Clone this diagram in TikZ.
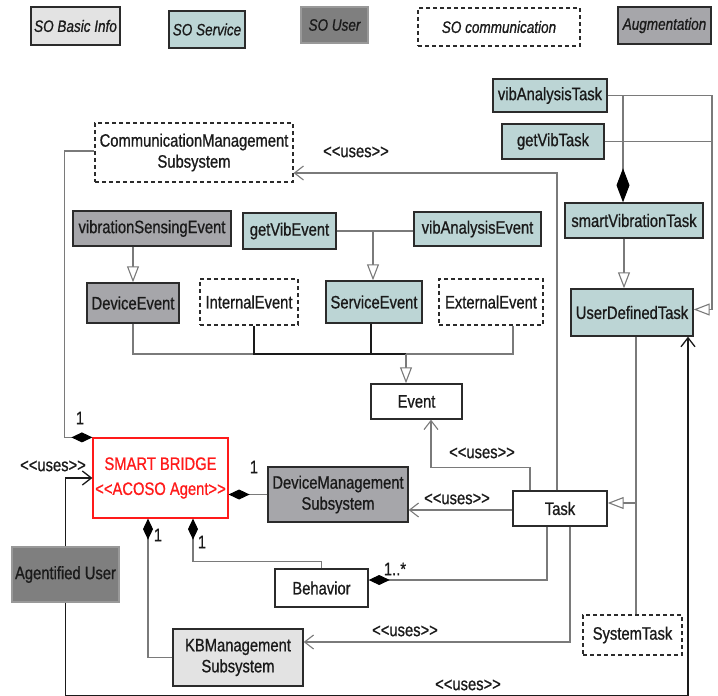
\documentclass[tikz,border=0pt]{standalone}
\usepackage{fontspec}
\setmainfont{Liberation Sans}[FakeStretch=0.82, FakeBold=0.8]
\usetikzlibrary{arrows.meta}

\definecolor{basicfill}{HTML}{E3E3E3}
\definecolor{servicefill}{HTML}{BCD5D5}
\definecolor{userfill}{HTML}{7F7F7F}
\definecolor{augfill}{HTML}{A6A6AA}
\definecolor{edgecol}{HTML}{2B2B2B}
\definecolor{wirecol}{HTML}{7A7A7A}
\definecolor{txtcol}{HTML}{1A1A1A}
\definecolor{sbred}{HTML}{FF1A1A}

% angle brackets kept apart so that no guillemet ligature forms
\newcommand{\lt}{\textless\kern0pt}
\newcommand{\gt}{\textgreater\kern0pt}
\newcommand{\uses}{\lt\lt uses\gt\gt}

\tikzset{
  box/.style={draw=edgecol, line width=1.4pt, inner sep=0pt, align=center,
    text=txtcol, font=\fontsize{18}{21}\selectfont},
  basicbox/.style={box, fill=basicfill},
  plainbox/.style={box, fill=white},
  servicebox/.style={box, fill=servicefill},
  augbox/.style={box, fill=augfill},
  userbox/.style={box, fill=userfill, draw=userfill!80!white},
  commbox/.style={box, fill=white, dash pattern=on 4pt off 3pt, line width=1.2pt},
  legendtext/.style={font=\fontsize{16.5}{19}\selectfont\itshape},
  wire/.style={draw=wirecol, line width=1.1pt},
  darkwire/.style={draw=txtcol, line width=1.3pt},
  gen/.style={-{Triangle[open, length=16pt, width=12pt, fill=white]}},
  use/.style={-{Straight Barb[length=9pt, width=14pt]}},
  comp/.style={-{Diamond[length=21pt, width=10pt, fill=black, color=black]}},
  bigcomp/.style={-{Diamond[length=34pt, width=13pt, fill=black, color=black]}},
  lbl/.style={text=txtcol, font=\fontsize{18}{19}\selectfont, inner sep=0pt},
}

\begin{document}
\begin{tikzpicture}[x=1pt,y=-1pt]
\useasboundingbox (0,0) rectangle (718,696);

% ---------- legend ----------
\node[basicbox, legendtext, minimum width=89pt, minimum height=38pt] (lgBasic) at (75.5,26) {SO Basic Info};
\node[servicebox, legendtext, minimum width=76pt, minimum height=37pt] (lgService) at (207,29.5) {SO Service};
\node[userbox, legendtext, minimum width=67pt, minimum height=36pt] (lgUser) at (334.5,25) {SO User};
\node[commbox, legendtext, minimum width=162pt, minimum height=38pt] (lgComm) at (499,27) {SO communication};
\node[augbox, legendtext, minimum width=93pt, minimum height=37pt] (lgAug) at (664.5,25.5) {Augmentation};

% ---------- classes ----------
\node[commbox, minimum width=198pt, minimum height=59pt] (cms) at (194,152.5) {CommunicationManagement\\Subsystem};
\node[servicebox, minimum width=114pt, minimum height=33pt] (vat) at (550,95.5) {vibAnalysisTask};
\node[servicebox, minimum width=102pt, minimum height=35pt] (gvt) at (553,141.5) {getVibTask};
\node[servicebox, minimum width=138pt, minimum height=35pt] (svt) at (634,220.5) {smartVibrationTask};
\node[servicebox, minimum width=122pt, minimum height=47pt] (udt) at (632,312.5) {UserDefinedTask};

\node[augbox, minimum width=158pt, minimum height=35pt] (vse) at (152,228.5) {vibrationSensingEvent};
\node[servicebox, minimum width=93pt, minimum height=36pt] (gve) at (289.5,231) {getVibEvent};
\node[servicebox, minimum width=127pt, minimum height=34pt] (vae) at (477.5,229) {vibAnalysisEvent};

\node[augbox, minimum width=92pt, minimum height=40pt] (dev) at (133,303) {DeviceEvent};
\node[commbox, minimum width=98pt, minimum height=46pt] (iev) at (249,302) {InternalEvent};
\node[servicebox, minimum width=96pt, minimum height=42pt] (sev) at (374,302) {ServiceEvent};
\node[commbox, minimum width=104pt, minimum height=46pt] (eev) at (491,302) {ExternalEvent};

\node[plainbox, minimum width=91pt, minimum height=35pt] (evt) at (416.5,401.5) {Event};

\node[box, fill=white, draw=sbred, line width=1.2pt, text=sbred, font=\fontsize{18}{25}\selectfont,
      minimum width=135pt, minimum height=80pt] (sb) at (160.5,478)
      {SMART BRIDGE\\\lt\lt ACOSO Agent\gt\gt};
\node[augbox, minimum width=140pt, minimum height=55pt] (dms) at (338,494.5) {DeviceManagement\\Subsystem};
\node[plainbox, minimum width=94pt, minimum height=35pt] (task) at (560,508.5) {Task};
\node[userbox, minimum width=107pt, minimum height=55pt] (au) at (65.5,574.5) {Agentified User};
\node[plainbox, minimum width=93pt, minimum height=38pt] (beh) at (321.5,588) {Behavior};
\node[basicbox, minimum width=130pt, minimum height=57pt] (kbms) at (238,657.5) {KBManagement\\Subsystem};
\node[commbox, minimum width=99pt, minimum height=40pt] (syst) at (632.5,635) {SystemTask};

% ---------- junction points ----------
\coordinate (svcJoin) at (373,231);
\coordinate (evtBus) at (406,354);
\coordinate (taskJoin) at (636,503);
\coordinate (udtJoin) at (712,141.5);

% ---------- event hierarchy ----------
\draw[wire, gen] (dev.north |- vse.south) -- (dev.north);
\draw[wire] (gve.east) -- (gve.east -| vae.west);
\draw[wire, gen] (svcJoin) -- (svcJoin |- sev.north);
\draw[wire] (dev.south) |- (evtBus);
\draw[darkwire] ([xshift=5pt]iev.south) |- (evtBus);
\draw[darkwire] ([xshift=-3pt]sev.south) |- (evtBus);
\draw[wire] ([xshift=22pt]eev.south) |- (evtBus);
\draw[wire, gen] (evtBus) -- (evtBus |- evt.north);

% ---------- task hierarchy ----------
\draw[wire, bigcomp] (vat.east) -| ([xshift=-11pt]svt.north);
\draw[wire] (vat.east) -| (udtJoin);
\draw[wire] (gvt.east) -- (udtJoin);
\draw[wire, gen] (udtJoin) |- ([yshift=3pt]udt.east);
\draw[wire, gen] ([xshift=-10pt]svt.south) -- ([xshift=-10pt]svt.south |- udt.north);
\draw[wire, gen] ([xshift=4pt]udt.south) |- ([yshift=5.5pt]task.east);
\draw[wire] ([xshift=3.5pt]syst.north) -- (taskJoin);

% ---------- uses relations of Task ----------
\draw[wire, use] ([xshift=-3pt]task.north) |- ([yshift=-20.5pt]cms.east);
\draw[wire, use] ([xshift=-30pt]task.north) -- ++(0,-23) -| ([xshift=14.5pt]evt.south);
\draw[wire, use] ([yshift=-1.5pt]task.west) -- ([yshift=-1.5pt]task.west -| dms.east);
\draw[wire, use] ([xshift=10pt]task.south) |- ([yshift=15.5pt]kbms.east);
\draw[wire, comp] ([xshift=-13pt]task.south) |- ([yshift=8pt]beh.east);

% ---------- SMART BRIDGE compositions ----------
\draw[wire, comp] ([yshift=1.5pt]cms.west) -- ++(-30,0) |- (sb.north west);
\draw[wire, comp] (dms.west) -- (dms.west -| sb.east);
\draw[wire, comp] (kbms.west) -| ([xshift=-12.5pt]sb.south);
\draw[wire, comp] (beh.north) -- ++(0,-7) -| ([xshift=32.5pt]sb.south);

% ---------- Agentified User ----------
\draw[darkwire, use] (au.north) |- (sb.west);
\draw[darkwire, use] (au.south) -- ++(0,93) -| ([xshift=56pt]udt.south);

% ---------- labels ----------
\node[lbl] (uCms) at (356,152) {\uses};
\node[lbl] (uEvt) at (482,453) {\uses};
\node[lbl] (uDms) at (457,499) {\uses};
\node[lbl] (uKb) at (405,631) {\uses};
\node[lbl] (uSb) at (53,466) {\uses};
\node[lbl] (uUdt) at (468,685) {\uses};
\node[lbl] (mCms) at (80,418) {1};
\node[lbl] (mDms) at (254,467) {1};
\node[lbl] (mKb) at (158,535) {1};
\node[lbl] (mBeh) at (202,542) {1};
\node[lbl] (mTask) at (395,569) {1..*};
\end{tikzpicture}
\end{document}
